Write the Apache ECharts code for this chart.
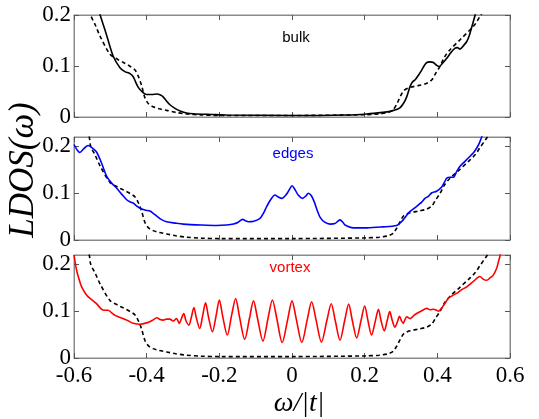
<!DOCTYPE html>
<html>
<head>
<meta charset="utf-8">
<script src="https://cdn.jsdelivr.net/npm/echarts@6/dist/echarts.min.js"></script>
<style>html,body{margin:0;padding:0;background:#fff}#c{width:539px;height:419px}</style>
</head>
<body>
<div id="c"></div>
<script>
// ---- data ----
const xTicks = [-0.6, -0.4, -0.2, 0, 0.2, 0.4, 0.6];
const panelLabels = ['bulk', 'edges', 'vortex'];
const yMax = [0.2, 0.22, 0.22];

// dashed reference curve (same in all panels)
const dashX = [-0.57, -0.558, -0.554, -0.541, -0.528, -0.501, -0.48, -0.464, -0.445, -0.432, -0.422, -0.414, -0.405, -0.395, -0.382, -0.365, -0.345, -0.32, -0.29, -0.25, -0.2, 0, 0.2, 0.24, 0.265, 0.278, 0.288, 0.298, 0.308, 0.325, 0.35, 0.371, 0.385, 0.395, 0.407, 0.42, 0.435, 0.462, 0.49, 0.505, 0.517, 0.536, 0.55, 0.565];
const dashY = [0.25, 0.22, 0.2, 0.18, 0.158, 0.123, 0.113, 0.107, 0.099, 0.092, 0.078, 0.062, 0.038, 0.026, 0.02, 0.016, 0.013, 0.009, 0.006, 0.004, 0.003, 0.003, 0.0045, 0.006, 0.009, 0.014, 0.025, 0.04, 0.052, 0.058, 0.062, 0.066, 0.073, 0.085, 0.099, 0.118, 0.132, 0.151, 0.171, 0.183, 0.197, 0.218, 0.235, 0.26];

// bulk (black solid)
const bulkX = [-0.54, -0.528, -0.519, -0.51, -0.492, -0.473, -0.46, -0.446, -0.437, -0.43, -0.423, -0.412, -0.4, -0.385, -0.372, -0.362, -0.354, -0.345, -0.336, -0.32, -0.308, -0.29, -0.272, -0.22, -0.18, 0, 0.15, 0.206, 0.25, 0.27, 0.285, 0.297, 0.307, 0.316, 0.325, 0.332, 0.339, 0.348, 0.357, 0.365, 0.371, 0.38, 0.389, 0.397, 0.405, 0.415, 0.426, 0.438, 0.449, 0.455, 0.462, 0.472, 0.481, 0.488, 0.495, 0.504, 0.512, 0.52];
const bulkY = [0.23, 0.2, 0.18, 0.16, 0.119, 0.096, 0.089, 0.085, 0.079, 0.068, 0.058, 0.049, 0.044, 0.044, 0.045, 0.043, 0.039, 0.031, 0.024, 0.016, 0.012, 0.008, 0.0065, 0.005, 0.004, 0.003, 0.004, 0.006, 0.009, 0.011, 0.014, 0.018, 0.027, 0.04, 0.06, 0.069, 0.073, 0.082, 0.092, 0.102, 0.107, 0.108, 0.107, 0.102, 0.099, 0.106, 0.115, 0.127, 0.135, 0.136, 0.133, 0.14, 0.148, 0.16, 0.177, 0.2, 0.225, 0.25];

// edges (blue)
const edgeX = [-0.6, -0.592, -0.584, -0.573, -0.561, -0.55, -0.538, -0.524, -0.51, -0.497, -0.483, -0.469, -0.455, -0.445, -0.437, -0.428, -0.418, -0.405, -0.391, -0.382, -0.372, -0.36, -0.345, -0.32, -0.299, -0.25, -0.207, -0.18, -0.161, -0.148, -0.136, -0.128, -0.12, -0.105, -0.088, -0.078, -0.07, -0.058, -0.047, -0.038, -0.028, -0.015, -0.007, 0, 0.008, 0.017, 0.029, 0.038, 0.045, 0.053, 0.061, 0.069, 0.077, 0.09, 0.105, 0.118, 0.132, 0.14, 0.146, 0.169, 0.206, 0.25, 0.288, 0.297, 0.306, 0.316, 0.325, 0.337, 0.348, 0.357, 0.366, 0.375, 0.385, 0.398, 0.412, 0.42, 0.426, 0.435, 0.444, 0.453, 0.462, 0.476, 0.49, 0.5, 0.508, 0.515, 0.522, 0.53];
const edgeY = [0.204, 0.193, 0.187, 0.195, 0.202, 0.197, 0.188, 0.164, 0.136, 0.122, 0.111, 0.098, 0.086, 0.081, 0.079, 0.073, 0.068, 0.064, 0.062, 0.057, 0.051, 0.044, 0.039, 0.036, 0.034, 0.032, 0.031, 0.032, 0.034, 0.038, 0.044, 0.041, 0.039, 0.04, 0.046, 0.058, 0.071, 0.087, 0.096, 0.092, 0.089, 0.098, 0.108, 0.116, 0.108, 0.096, 0.089, 0.094, 0.1, 0.095, 0.082, 0.064, 0.049, 0.038, 0.034, 0.035, 0.043, 0.038, 0.032, 0.026, 0.026, 0.028, 0.031, 0.036, 0.043, 0.053, 0.061, 0.068, 0.075, 0.081, 0.089, 0.093, 0.101, 0.104, 0.113, 0.124, 0.132, 0.134, 0.134, 0.146, 0.157, 0.168, 0.179, 0.187, 0.196, 0.206, 0.22, 0.24];

// vortex (red)
const vortexX = [-0.6, -0.593, -0.586, -0.579, -0.565, -0.552, -0.538, -0.524, -0.515, -0.506, -0.497, -0.487, -0.464, -0.45, -0.437, -0.418, -0.4, -0.385, -0.372, -0.363, -0.354, -0.345, -0.336, -0.327, -0.318, -0.31, -0.304, -0.298, -0.292, -0.284, -0.277, -0.27, -0.263, -0.254, -0.246, -0.238, -0.23, -0.219, -0.209, -0.2, -0.191, -0.178, -0.166, -0.155, -0.145, -0.13, -0.117, -0.106, -0.095, -0.08, -0.066, -0.054, -0.042, -0.027, -0.012, 0, 0.012, 0.027, 0.042, 0.054, 0.066, 0.081, 0.096, 0.108, 0.119, 0.132, 0.145, 0.156, 0.166, 0.178, 0.19, 0.2, 0.209, 0.219, 0.229, 0.238, 0.245, 0.254, 0.262, 0.269, 0.276, 0.283, 0.29, 0.296, 0.301, 0.306, 0.311, 0.316, 0.325, 0.334, 0.343, 0.357, 0.371, 0.38, 0.389, 0.398, 0.403, 0.415, 0.43, 0.441, 0.453, 0.467, 0.481, 0.5, 0.517, 0.527, 0.536, 0.545, 0.554, 0.563, 0.568, 0.573, 0.58];
const vortexY = [0.22, 0.188, 0.168, 0.152, 0.134, 0.125, 0.116, 0.104, 0.102, 0.102, 0.097, 0.091, 0.084, 0.079, 0.074, 0.072, 0.075, 0.08, 0.086, 0.082, 0.081, 0.083, 0.083, 0.079, 0.084, 0.074, 0.085, 0.095, 0.08, 0.07, 0.087, 0.108, 0.085, 0.063, 0.09, 0.118, 0.088, 0.056, 0.09, 0.124, 0.09, 0.049, 0.092, 0.127, 0.09, 0.04, 0.085, 0.122, 0.085, 0.036, 0.085, 0.124, 0.085, 0.033, 0.082, 0.122, 0.082, 0.033, 0.082, 0.12, 0.082, 0.034, 0.08, 0.116, 0.08, 0.038, 0.08, 0.115, 0.08, 0.043, 0.08, 0.111, 0.08, 0.049, 0.078, 0.104, 0.08, 0.058, 0.08, 0.099, 0.08, 0.066, 0.077, 0.089, 0.08, 0.074, 0.082, 0.088, 0.084, 0.09, 0.095, 0.101, 0.106, 0.103, 0.104, 0.102, 0.1, 0.11, 0.127, 0.133, 0.138, 0.146, 0.152, 0.164, 0.174, 0.168, 0.166, 0.171, 0.177, 0.191, 0.205, 0.22, 0.25];

const zip = (xs, ys) => xs.map((x, i) => [x, ys[i]]);

// ---- chart ----
const chart = echarts.init(document.getElementById('c'), null, {renderer: 'canvas'});
const gridTops = [15, 137, 255];
const gridH = [102, 103, 103];
const gray = '#8a8a8a';
const serif = 'Liberation Serif';

const grids = gridTops.map((t, i) => ({left: 74, width: 436, top: t, height: gridH[i], show: true, borderColor: gray, borderWidth: 1, backgroundColor: 'transparent'}));
const xAxes = [], yAxes = [];
for (let i = 0; i < 3; i++) {
  ['bottom', 'top'].forEach(pos => {
    xAxes.push({
      gridIndex: i, type: 'value', position: pos, min: -0.6, max: 0.6, interval: 0.2,
      axisLine: {show: true, onZero: false, lineStyle: {color: gray, width: 1}},
      axisTick: {show: true, inside: true, length: 5, lineStyle: {color: '#555'}},
      axisLabel: {show: pos === 'bottom' && i === 2, color: '#000', fontFamily: serif, fontSize: 23, margin: 6,
        formatter: v => String(Math.round(v * 10) / 10)},
      splitLine: {show: false}
    });
  });
  ['left', 'right'].forEach(pos => {
    yAxes.push({
      gridIndex: i, type: 'value', position: pos, min: 0, max: yMax[i], interval: 0.1,
      axisLine: {show: true, onZero: false, lineStyle: {color: gray, width: 1}},
      axisTick: {show: true, inside: true, length: 5, lineStyle: {color: '#555'}},
      axisLabel: {show: pos === 'left', color: '#000', fontFamily: serif, fontSize: 23, margin: 3, showMaxLabel: i === 0,
        formatter: v => String(Math.round(v * 10) / 10)},
      splitLine: {show: false}
    });
  });
}

const lineBase = {type: 'line', showSymbol: false, symbol: 'none', smooth: 0.3, clip: true, animation: false};
const series = [];
series.push(Object.assign({}, lineBase, {xAxisIndex: 0, yAxisIndex: 0, data: zip(dashX, dashY), lineStyle: {color: '#000', width: 1.6, type: [4, 3]}}));
series.push(Object.assign({}, lineBase, {xAxisIndex: 0, yAxisIndex: 0, data: zip(bulkX, bulkY), lineStyle: {color: '#000', width: 1.6}}));
series.push(Object.assign({}, lineBase, {xAxisIndex: 2, yAxisIndex: 2, data: zip(dashX, dashY), lineStyle: {color: '#000', width: 1.6, type: [4, 3]}}));
series.push(Object.assign({}, lineBase, {xAxisIndex: 2, yAxisIndex: 2, data: zip(edgeX, edgeY), lineStyle: {color: '#0000ff', width: 1.6}}));
series.push(Object.assign({}, lineBase, {xAxisIndex: 4, yAxisIndex: 4, data: zip(dashX, dashY), lineStyle: {color: '#000', width: 1.6, type: [4, 3]}}));
series.push(Object.assign({}, lineBase, {xAxisIndex: 4, yAxisIndex: 4, data: zip(vortexX, vortexY), lineStyle: {color: '#ff0000', width: 1.6}}));

const labelColors = ['#000', '#0000ff', '#ff0000'];
const labelY = [38, 154, 268];
const labelX = [296, 293, 290];
const graphic = panelLabels.map((t, i) => ({
  type: 'text', x: labelX[i], y: labelY[i], z: 100,
  style: {text: t, fill: labelColors[i], fontFamily: 'Liberation Sans', fontSize: 15, align: 'center', verticalAlign: 'middle'}
}));
graphic.push({type: 'text', x: 24, y: 170, rotation: Math.PI / 2, z: 100,
  style: {text: 'LDOS(ω)', fill: '#000', fontFamily: serif, fontStyle: 'italic', fontSize: 35, align: 'center', verticalAlign: 'middle'}});
graphic.push({type: 'text', x: 299, y: 404, z: 100,
  style: {text: 'ω/|t|', fill: '#000', fontFamily: serif, fontStyle: 'italic', fontSize: 28, align: 'center', verticalAlign: 'middle'}});

chart.setOption({animation: false, grid: grids, xAxis: xAxes, yAxis: yAxes, series: series, graphic: graphic});
</script>
</body>
</html>
